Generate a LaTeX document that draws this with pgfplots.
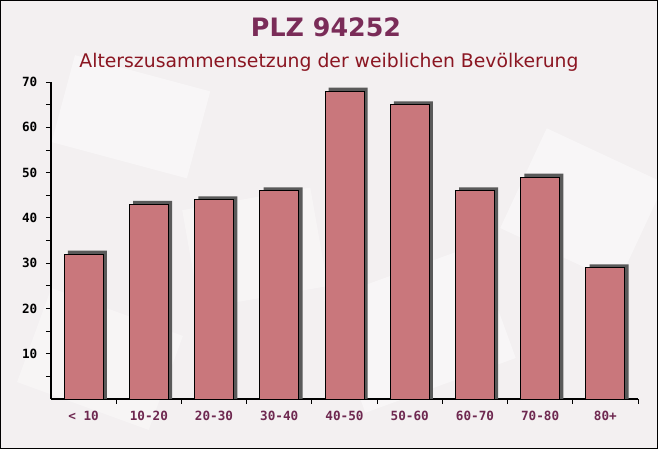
\documentclass[border=0pt]{standalone}
\usepackage{pgfplots}
\pgfplotsset{compat=1.18}
\usepackage{pgfplotstable}
\usepackage{fontspec}
\setmainfont{DejaVu Sans}
\setmonofont{DejaVu Sans Mono}
\definecolor{bg}{RGB}{243,240,241}
\definecolor{barfill}{RGB}{201,119,124}
\definecolor{shadowc}{RGB}{90,90,90}
\definecolor{titlec}{RGB}{122,44,88}
\definecolor{subc}{RGB}{139,22,34}
\definecolor{xlab}{RGB}{110,40,80}
\pgfplotstableread{
x v
0 32
1 43
2 44
3 46
4 68
5 65
6 46
7 49
8 29
}\data
\begin{document}
\begin{tikzpicture}
\path[use as bounding box] (0,0) rectangle (493.5pt,336.75pt);
\begin{scope}[x=0.75pt,y=0.75pt]
\clip (0,0) rectangle (658,449);
\fill[bg] (0,0) rectangle (658,449);
\fill[white, opacity=0.45, rotate around={-15:(120,330)}] (60,290) rectangle (200,380);
\fill[white, opacity=0.45, rotate around={20:(420,120)}] (340,60) rectangle (500,180);
\fill[white, opacity=0.45, rotate around={-25:(580,250)}] (520,190) rectangle (650,300);
\fill[white, opacity=0.35, rotate around={10:(250,200)}] (190,150) rectangle (320,250);
\fill[white, opacity=0.35, rotate around={-20:(100,90)}] (30,40) rectangle (170,140);
\end{scope}
\begin{scope}[x=0.75pt,y=0.75pt]
\node[anchor=base, font=\bfseries\fontsize{19}{22}\selectfont, text=titlec, inner sep=0pt] at (326,412) {PLZ 94252};
\node[anchor=base, font=\fontsize{14.1}{17}\selectfont, text=subc, inner sep=0pt] at (329,381) {Alterszusammensetzung der weiblichen Bevölkerung};
\end{scope}
\begin{axis}[
  at={(38.25pt,37.5pt)}, anchor=south west,
  scale only axis, width=440.25pt, height=237.75pt,
  xmin=-0.5, xmax=8.5, ymin=0, ymax=70,
  axis x line*=bottom, axis y line*=left,
  axis line style={black, line width=0.9pt},
  xtick={0,...,8},
  xticklabels={{< 10},10-20,20-30,30-40,40-50,50-60,60-70,70-80,80+},
  minor xtick={0.5,1.5,...,8.5},
  ytick={10,20,...,70},
  minor ytick={5,15,...,65},
  tick align=outside,
  major tick length=3.75pt, minor tick length=3.75pt,
  major x tick style={draw=none},
  every tick/.style={black, line width=0.6pt},
  every minor tick/.style={black, line width=0.6pt},
  /pgf/number format/assume math mode=true,
  tick label style={font=\ttfamily\bfseries\fontsize{9.5}{11}\selectfont},
  yticklabel style={text=black, xshift=-3pt},
  xticklabel style={text=xlab, yshift=-2pt},
  clip=false,
]
\addplot[ybar, bar width=29.25pt, bar shift=2.8pt, fill=shadowc, draw=none] table[x=x, y expr=\thisrow{v}+0.75] {\data};
\addplot[ybar, bar width=29.25pt, bar shift=0pt, fill=barfill, draw=black, line width=0.6pt] table[x=x, y=v] {\data};
\end{axis}
\draw[black, line width=0.75pt] (0.375pt,0.375pt) rectangle (493.125pt,336.375pt);
\end{tikzpicture}
\end{document}
